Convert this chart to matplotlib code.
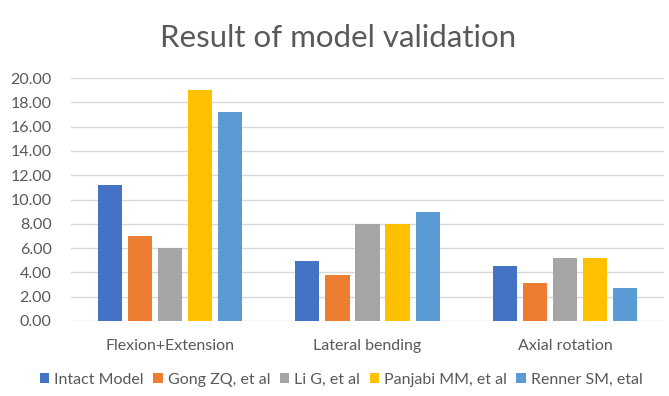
import numpy as np
import matplotlib.pyplot as plt

categories = ["Flexion+Extension", "Lateral bending", "Axial rotation"]
series_names = ["Intact Model", "Gong ZQ, et al", "Li G, et al", "Panjabi MM, et al", "Renner SM, etal"]
intact = [11.2, 4.95, 4.5]
gong = [7.0, 3.8, 3.15]
li = [6.0, 8.0, 5.2]
panjabi = [19.0, 8.0, 5.2]
renner = [17.2, 9.0, 2.75]
yticks = [0, 2, 4, 6, 8, 10, 12, 14, 16, 18, 20]

colors = ["#4472C4", "#ED7D31", "#A5A5A5", "#FFC000", "#5B9BD5"]
values = [intact, gong, li, panjabi, renner]

plt.rcParams['font.family'] = ['Lato', 'DejaVu Sans']
fig = plt.figure(figsize=(6.69, 3.96), dpi=100)
ax = fig.add_axes([71 / 669, 1 - 321 / 396, 593 / 669, 243 / 396])

x = np.arange(len(categories))
step = 0.152
width = 0.122
for i, (vals, name, c) in enumerate(zip(values, series_names, colors)):
    ax.bar(x + (i - 2) * step, vals, width, color=c, label=name, zorder=3)

ax.set_xlim(-0.5, 2.5)
ax.set_ylim(0, 20)
ax.set_yticks(yticks)
ax.set_yticklabels([f"{v:.2f}" for v in yticks], fontsize=11.5, color="#595959")
ax.set_xticks(x)
ax.set_xticklabels(categories, fontsize=11.5, color="#595959")
ax.tick_params(axis='x', length=0, pad=13)
ax.tick_params(axis='y', length=0, pad=14)
ax.grid(axis='y', color="#D9D9D9", linewidth=1, zorder=0)
for s in ax.spines.values():
    s.set_visible(False)

fig.text(0.505, 1 - 38 / 396, "Result of model validation", ha='center', va='center',
         fontsize=22.5, color="#595959")
fig.legend(loc='center', bbox_to_anchor=(0.51, 1 - 380 / 396), ncol=5, frameon=False,
           fontsize=11.5, labelcolor="#595959", handlelength=0.6, handleheight=0.6,
           handletextpad=0.3, columnspacing=0.6)

fig.savefig("out.png", dpi=100)
